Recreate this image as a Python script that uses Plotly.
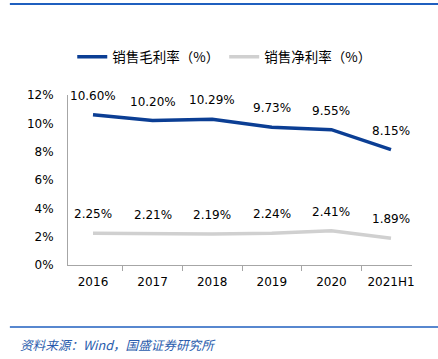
import plotly.graph_objects as go

categories = ["2016", "2017", "2018", "2019", "2020", "2021H1"]
gross_margin = [10.60, 10.20, 10.29, 9.73, 9.55, 8.15]
net_margin = [2.25, 2.21, 2.19, 2.24, 2.41, 1.89]
y_ticks = [0, 2, 4, 6, 8, 10, 12]
y_tick_labels = ["0%", "2%", "4%", "6%", "8%", "10%", "12%"]

num_font = "DejaVu Sans, Verdana, sans-serif"
cjk_font = "Noto Sans CJK SC, sans-serif"

fig = go.Figure()
fig.add_trace(go.Scatter(
    x=categories, y=gross_margin, mode="lines",
    name="销售毛利率（%）",
    line=dict(color="#0b3e94", width=3.5),
))
fig.add_trace(go.Scatter(
    x=categories, y=net_margin, mode="lines",
    name="销售净利率（%）",
    line=dict(color="#d0d0d0", width=3.5),
))

annotations = []
for series in (gross_margin, net_margin):
    for i, v in enumerate(series):
        annotations.append(dict(
            x=i, y=v, xref="x", yref="y", text=f"{v:.2f}%", showarrow=False,
            yshift=19, xanchor="center", yanchor="middle",
            font=dict(family=num_font, size=12, color="#000000"),
        ))

annotations.append(dict(
    text="<i>资料来源：Wind，国盛证券研究所</i>", xref="paper", yref="paper",
    x=-0.146, y=-0.47, xanchor="left", yanchor="middle", showarrow=False,
    font=dict(family=cjk_font, size=12.6, color="#2a5cad"),
))

fig.update_layout(
    width=438, height=359,
    margin=dict(l=68, r=26, t=95, b=94),
    paper_bgcolor="white", plot_bgcolor="white",
    showlegend=True,
    legend=dict(orientation="h", x=0.512, xanchor="center", xref="container",
                y=1 - 57 / 359, yanchor="middle", yref="container",
                font=dict(family=cjk_font, size=13.5, color="#000000"),
                itemwidth=30, tracegroupgap=0),
    xaxis=dict(type="category", categoryorder="array", categoryarray=categories,
               showgrid=False, showline=True, linecolor="#a6a6a6",
               linewidth=1, ticks="outside", tickson="boundaries", ticklen=5,
               tickcolor="#a6a6a6", tickfont=dict(family=num_font, size=12, color="#000000"),
               zeroline=False, ticklabelstandoff=6),
    yaxis=dict(range=[0, 12], tickvals=y_ticks, ticktext=y_tick_labels, showgrid=False,
               showline=True, linecolor="#a6a6a6", linewidth=1, zeroline=False,
               tickfont=dict(family=num_font, size=12, color="#000000"), ticks="",
               ticklabelstandoff=11),
    shapes=[
        dict(type="line", xref="paper", yref="paper", x0=-0.169, x1=1.08, y0=1.535, y1=1.535,
             line=dict(color="#1f5fbf", width=2)),
        dict(type="line", xref="paper", yref="paper", x0=-0.169, x1=1.08, y0=-0.365, y1=-0.365,
             line=dict(color="#1f5fbf", width=1.5)),
    ],
    annotations=annotations,
)

fig.write_html("out.html", config={"displayModeBar": False},
               post_script="document.body.style.margin='0';")
